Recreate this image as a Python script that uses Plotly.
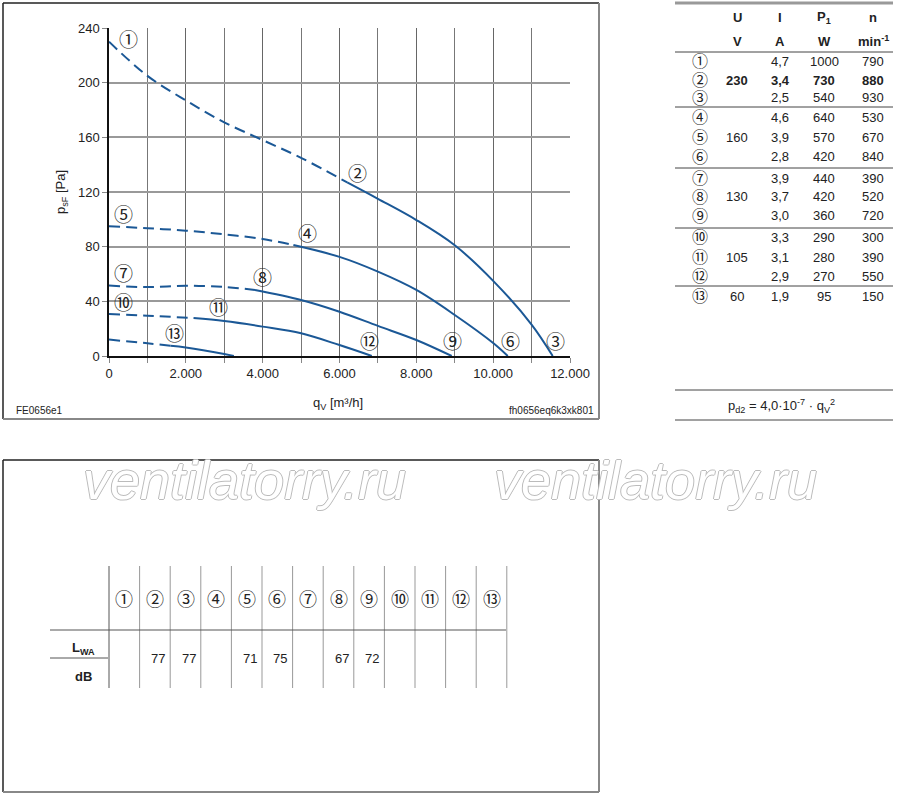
import plotly.graph_objects as go

# --- data --------------------------------------------------------------------
# 230 V curve (points 1-2-3)
q_230 = [0, 1000, 2000, 3000, 4000, 5000, 6200, 7000, 8000, 9000, 10000, 11000, 11550]
p_230 = [230, 205, 187, 171, 158, 145, 127, 115, 99.5, 81, 55, 23, 0]
# 160 V curve (points 4-5-6)
q_160 = [0, 1000, 2000, 3000, 4000, 4800, 6000, 7000, 8000, 9000, 10000, 10380]
p_160 = [95, 93.5, 91.7, 89, 85.6, 81.2, 72.5, 61.7, 48.3, 30, 9.5, 0]
# 130 V curve (points 7-8-9)
q_130 = [0, 1000, 2000, 3000, 3800, 5000, 6000, 7000, 8000, 8920]
p_130 = [51.5, 50.4, 51.4, 50.5, 48.3, 41, 32.4, 22, 11.7, 0]
# 105 V curve (points 10-11-12)
q_105 = [0, 1000, 2200, 3000, 4000, 5000, 6000, 6840]
p_105 = [30.7, 29.5, 27.8, 25.6, 21.5, 16.6, 8, 0]
# 60 V curve (point 13)
q_60 = [0, 1000, 1600, 2000, 3000, 3250]
p_60 = [12, 9.3, 7.5, 6.3, 1.5, 0]

# flow where the dashed (not recommended) part ends
dash_end = [6200, 4800, 3800, 2200, 1600]

circled = ["①", "②", "③", "④", "⑤", "⑥", "⑦", "⑧", "⑨", "⑩", "⑪", "⑫", "⑬"]
volts = ["", "230", "", "", "160", "", "", "130", "", "", "105", "", "60"]
amps = ["4,7", "3,4", "2,5", "4,6", "3,9", "2,8", "3,9", "3,7", "3,0", "3,3", "3,1", "2,9", "1,9"]
power = [1000, 730, 540, 640, 570, 420, 440, 420, 360, 290, 280, 270, 95]
speed = [790, 880, 930, 530, 670, 840, 390, 520, 720, 300, 390, 550, 150]
lwa = [None, 77, 77, None, 71, 75, None, 67, 72, None, None, None, None]

# --- figure ------------------------------------------------------------------
W, H = 900, 797
BLUE = "#1b5896"
FONT = "Liberation Sans, Arial, sans-serif"
CFONT = "Noto Sans CJK JP, DejaVu Sans, sans-serif"


def px(x):
    return x / W


def py(y):
    return 1 - y / H


fig = go.Figure()

curves = [(q_230, p_230), (q_160, p_160), (q_130, p_130), (q_105, p_105), (q_60, p_60)]
for (q, p), split in zip(curves, dash_end):
    i = q.index(split)
    fig.add_trace(go.Scatter(x=q[:i + 1], y=p[:i + 1], mode="lines", line_shape="spline",
                             line=dict(color=BLUE, width=2, dash="11px,6px"), hoverinfo="skip"))
    fig.add_trace(go.Scatter(x=q[i:], y=p[i:], mode="lines", line_shape="spline",
                             line=dict(color=BLUE, width=2), hoverinfo="skip"))

# operating point labels on the chart
label_pos = [(500, 232), (6460, 134), (11620, 11), (5160, 90), (370, 104), (10440, 11),
             (370, 61), (3990, 58), (8930, 11), (370, 40), (2840, 36), (6780, 11), (1700, 17.5)]
for c, (lx, ly) in zip(circled, label_pos):
    fig.add_annotation(x=lx, y=ly, text=c, showarrow=False, font=dict(family=CFONT, size=19, color="#222"))

fig.update_xaxes(range=[0, 12000], domain=[px(109), px(570)], dtick=2000, tickformat=",d",
                 automargin=False,
                 showgrid=True, gridcolor="#666", gridwidth=1, zeroline=False,
                 showline=True, linecolor="#111", linewidth=1.5,
                 ticks="outside", ticklen=5, tickcolor="#888",
                 minor=dict(dtick=1000, showgrid=True, gridcolor="#777", gridwidth=1,
                            ticks="outside", ticklen=5, tickcolor="#888"),
                 tickfont=dict(family=FONT, size=13, color="#222"), fixedrange=True)
fig.update_yaxes(range=[0, 240], domain=[py(356), py(28)], dtick=40, automargin=False,
                 showgrid=True, gridcolor="#999", gridwidth=1.5, zeroline=False,
                 showline=True, linecolor="#111", linewidth=1.5,
                 ticks="outside", ticklen=5, tickcolor="#888",
                 tickfont=dict(family=FONT, size=13, color="#222"), fixedrange=True)

ann = []


def txt(x, y, s, size=13, bold=False, anchor="center", color="#222", family=FONT, angle=0):
    if not s:
        return
    if bold:
        s = f"<b>{s}</b>"
    ann.append(dict(x=px(x), y=py(y), xref="paper", yref="paper", text=s, showarrow=False,
                    xanchor=anchor, yanchor="middle", textangle=angle,
                    font=dict(family=family, size=size, color=color)))


# axis titles and codes
txt(62, 192, "p<sub>sF</sub> [Pa]", size=13, angle=-90)
txt(338, 403, "q<sub>V</sub> [m³/h]", size=13)
txt(14, 410, "FE0656e1", size=10, anchor="left")
txt(596, 410, "fh0656eq6k3xk801", size=10, anchor="right")

# right-hand data table
col_x = [700, 737, 780, 824, 873]
txt(col_x[1], 17, "U", bold=True)
txt(col_x[2], 17, "I", bold=True)
txt(col_x[3], 17, "P<sub>1</sub>", bold=True)
txt(col_x[4], 17, "n", bold=True)
txt(col_x[1], 41, "V", bold=True)
txt(col_x[2], 41, "A", bold=True)
txt(col_x[3], 41, "W", bold=True)
txt(col_x[4], 41, "min<sup>-1</sup>", bold=True)
row_y = [61, 80, 98, 117, 137, 157, 178, 197, 216, 237, 257, 276, 296]
for k in range(13):
    b = k == 1
    txt(col_x[0], row_y[k] - 1, circled[k], size=16, family=CFONT)
    txt(col_x[1], row_y[k], volts[k], bold=b)
    txt(col_x[2], row_y[k], amps[k], bold=b)
    txt(col_x[3], row_y[k], str(power[k]), bold=b)
    txt(col_x[4], row_y[k], str(speed[k]), bold=b)
txt(781, 406, "p<sub>d2</sub> = 4,0·10<sup>-7</sup> · q<sub>V</sub><sup>2</sup>", size=13)

# sound level table
cell_w = 30.6
for k in range(13):
    cx = 109 + cell_w * (k + 0.5)
    txt(cx, 598, circled[k], size=18, family=CFONT)
    if lwa[k] is not None:
        txt(cx + 3, 658, str(lwa[k]), size=13)
txt(83, 648, "L<sub>WA</sub>", bold=True)
txt(83, 676, "dB", bold=True)

# watermark
for wx in (245, 655):
    ann.append(dict(x=px(wx), y=py(480), xref="paper", yref="paper", text="ventilatorry.ru",
                    showarrow=False, xanchor="center", yanchor="middle",
                    font=dict(family="Liberation Sans Narrow, Liberation Sans", size=54, style="italic",
                              color="white",
                              shadow="1px 0 0 #bbb, -1px 0 0 #bbb, 0 1px 0 #bbb, 0 -1px 0 #bbb")))

shapes = []


def line(x0, y0, x1, y1, color="#333", width=1):
    shapes.append(dict(type="line", xref="paper", yref="paper", x0=px(x0), y0=py(y0),
                       x1=px(x1), y1=py(y1), line=dict(color=color, width=width)))


# chart frame
line(3, 3, 599, 3, "#222", 1.5)
line(3, 3, 3, 419, "#222", 1.5)
line(599, 3, 599, 419, "#888", 2)
line(3, 419, 599, 419, "#888", 2)
# right table rules
line(675, 3, 893, 3, "#999", 3)
for yy in (52, 107, 168, 228, 286):
    line(675, yy, 893, yy, "#444", 1)
line(675, 390, 893, 390, "#444", 1)
line(675, 420, 893, 420, "#444", 1)
# bottom frame
line(3, 460, 599, 460, "#222", 1.5)
line(3, 460, 3, 792, "#222", 1.5)
line(599, 460, 599, 792, "#888", 2)
line(3, 792, 599, 792, "#888", 2)
# sound table rules
for k in range(14):
    xx = 109 + cell_w * k
    line(xx, 566, xx, 688, "#555" if k == 0 else "#999", 1)
line(50, 630, 506, 630, "#555", 1)
line(50, 658, 108, 658, "#555", 1)

fig.update_layout(width=W, height=H, margin=dict(l=0, r=0, t=0, b=0, autoexpand=False),
                  separators=",.",
                  paper_bgcolor="white", plot_bgcolor="white", showlegend=False,
                  annotations=fig.layout.annotations + tuple(ann), shapes=shapes)

fig.write_html("out.html", config={"displayModeBar": False},
               post_script="document.body.style.margin='0';document.body.style.overflow='hidden';")
